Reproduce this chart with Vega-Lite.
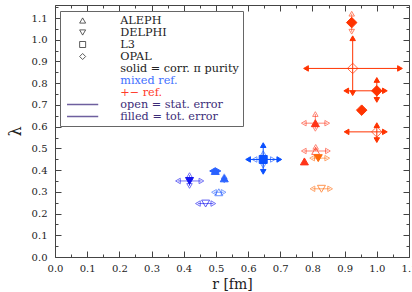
{
  "$schema": "https://vega.github.io/schema/vega-lite/v6.json",
  "width": 354,
  "height": 252,
  "autosize": "none",
  "padding": {"left": 55, "top": 5, "right": 3, "bottom": 35},
  "background": "white",
  "config": {
    "view": {"stroke": null},
    "font": "DejaVu Serif",
    "axis": {
      "grid": false,
      "domainColor": "#444",
      "tickColor": "#444",
      "labelColor": "#222",
      "labelFont": "DejaVu Serif",
      "labelFontSize": 10,
      "titleFont": "DejaVu Serif",
      "titleFontWeight": "normal",
      "titleColor": "#222",
      "labelOverlap": false,
      "labelFlush": false,
      "domainWidth": 1,
      "tickWidth": 1
    }
  },
  "datasets": {
    "pts": [
      {"exp": "DELPHI", "series": "DELPHI mixed", "filled": true, "r": 0.418, "lam": 0.350},
      {"exp": "DELPHI", "series": "DELPHI mixed", "filled": false, "r": 0.468, "lam": 0.246},
      {"exp": "ALEPH", "series": "ALEPH mixed", "filled": true, "r": 0.498, "lam": 0.396},
      {"exp": "ALEPH", "series": "ALEPH mixed", "filled": true, "r": 0.526, "lam": 0.362},
      {"exp": "ALEPH", "series": "ALEPH mixed", "filled": false, "r": 0.509, "lam": 0.298},
      {"exp": "L3", "series": "L3 mixed", "filled": true, "r": 0.647, "lam": 0.449},
      {"exp": "ALEPH", "series": "ALEPH +−", "filled": true, "r": 0.809, "lam": 0.616},
      {"exp": "ALEPH", "series": "ALEPH +−", "filled": false, "r": 0.810, "lam": 0.488},
      {"exp": "DELPHI", "series": "DELPHI +−", "filled": true, "r": 0.818, "lam": 0.455},
      {"exp": "ALEPH", "series": "ALEPH +−", "filled": true, "r": 0.775, "lam": 0.440},
      {"exp": "DELPHI", "series": "DELPHI +−", "filled": false, "r": 0.828, "lam": 0.314},
      {"exp": "OPAL", "series": "OPAL +−", "filled": true, "r": 0.922, "lam": 1.079},
      {"exp": "OPAL", "series": "OPAL +−", "filled": false, "r": 0.925, "lam": 0.868},
      {"exp": "OPAL", "series": "OPAL +−", "filled": true, "r": 1.0, "lam": 0.765},
      {"exp": "OPAL", "series": "OPAL +−", "filled": true, "r": 0.953, "lam": 0.676},
      {"exp": "OPAL", "series": "OPAL +−", "filled": false, "r": 1.0, "lam": 0.576}
    ],
    "bars": [
      {"series": "DELPHI mixed", "kind": "stat", "r": 0.418, "lam": 0.350, "rlo": 0.382, "rhi": 0.455, "llo": 0.327, "lhi": 0.377},
      {"series": "DELPHI mixed", "kind": "stat", "r": 0.468, "lam": 0.246, "rlo": 0.444, "rhi": 0.492, "llo": 0.246, "lhi": 0.246},
      {"series": "ALEPH mixed", "kind": "tot", "r": 0.498, "lam": 0.396, "rlo": 0.488, "rhi": 0.508, "llo": 0.396, "lhi": 0.396},
      {"series": "ALEPH mixed", "kind": "stat", "r": 0.526, "lam": 0.362, "rlo": 0.526, "rhi": 0.526, "llo": 0.352, "lhi": 0.372},
      {"series": "ALEPH mixed", "kind": "stat", "r": 0.509, "lam": 0.298, "rlo": 0.494, "rhi": 0.524, "llo": 0.298, "lhi": 0.298},
      {"series": "L3 mixed", "kind": "tot", "r": 0.647, "lam": 0.449, "rlo": 0.600, "rhi": 0.697, "llo": 0.392, "lhi": 0.515},
      {"series": "L3 mixed", "kind": "stat", "r": 0.647, "lam": 0.449, "rlo": 0.620, "rhi": 0.677, "llo": 0.420, "lhi": 0.478},
      {"series": "ALEPH +−", "kind": "stat", "r": 0.809, "lam": 0.616, "rlo": 0.773, "rhi": 0.846, "llo": 0.590, "lhi": 0.658},
      {"series": "ALEPH +−", "kind": "stat", "r": 0.810, "lam": 0.488, "rlo": 0.773, "rhi": 0.848, "llo": 0.488, "lhi": 0.507},
      {"series": "DELPHI +−", "kind": "stat", "r": 0.818, "lam": 0.455, "rlo": 0.799, "rhi": 0.846, "llo": 0.455, "lhi": 0.455},
      {"series": "DELPHI +−", "kind": "stat", "r": 0.828, "lam": 0.314, "rlo": 0.800, "rhi": 0.855, "llo": 0.314, "lhi": 0.314},
      {"series": "OPAL +−", "kind": "stat", "r": 0.922, "lam": 1.079, "rlo": 0.922, "rhi": 0.922, "llo": 1.037, "lhi": 1.120},
      {"series": "OPAL +−", "kind": "tot", "r": 0.925, "lam": 0.868, "rlo": 0.780, "rhi": 1.072, "llo": 0.754, "lhi": 1.007},
      {"series": "OPAL +−", "kind": "tot", "r": 1.0, "lam": 0.765, "rlo": 0.905, "rhi": 1.025, "llo": 0.723, "lhi": 0.815},
      {"series": "OPAL +−", "kind": "tot", "r": 1.0, "lam": 0.576, "rlo": 0.906, "rhi": 1.025, "llo": 0.538, "lhi": 0.607}
    ]
  },
  "resolve": {"axis": {"x": "independent", "y": "independent"}},
  "layer": [
    {
      "data": {"name": "bars"},
      "transform": [{"filter": "datum.rlo < datum.rhi"}],
      "mark": {"type": "rule", "strokeWidth": 1},
      "encoding": {
        "x": {"field": "rlo", "type": "quantitative", "scale": {"domain": [0, 1.1], "nice": false, "zero": false}, "axis": null},
        "x2": {"field": "rhi"},
        "y": {"field": "lam", "type": "quantitative", "scale": {"domain": [0, 1.16], "nice": false, "zero": false}, "axis": null},
        "stroke": {"field": "series", "type": "nominal", "scale": {"domain": ["ALEPH mixed", "DELPHI mixed", "L3 mixed", "ALEPH +−", "DELPHI +−", "OPAL +−"], "range": ["#2a62ff", "#1414f0", "#0a50ff", "#ff3418", "#ff6a0a", "#ff3300"]}, "legend": null},
        "opacity": {"condition": {"test": "datum.kind == 'stat'", "value": 0.6}, "value": 1}
      }
    },
    {
      "data": {"name": "bars"},
      "transform": [{"filter": "datum.llo < datum.lhi"}],
      "mark": {"type": "rule", "strokeWidth": 1},
      "encoding": {
        "x": {"field": "r", "type": "quantitative", "scale": {"domain": [0, 1.1], "nice": false, "zero": false}, "axis": null},
        "y": {"field": "llo", "type": "quantitative", "scale": {"domain": [0, 1.16], "nice": false, "zero": false}, "axis": null},
        "y2": {"field": "lhi"},
        "stroke": {"field": "series", "type": "nominal", "legend": null},
        "opacity": {"condition": {"test": "datum.kind == 'stat'", "value": 0.6}, "value": 1}
      }
    },
    {
      "data": {"name": "bars"},
      "transform": [{"filter": "datum.rlo < datum.r"}],
      "mark": {"type": "point", "shape": "triangle-left", "size": 30, "strokeWidth": 1},
      "encoding": {
        "x": {"field": "rlo", "type": "quantitative", "scale": {"domain": [0, 1.1], "nice": false, "zero": false}, "axis": null},
        "y": {"field": "lam", "type": "quantitative", "scale": {"domain": [0, 1.16], "nice": false, "zero": false}, "axis": null},
        "stroke": {"field": "series", "type": "nominal", "legend": null},
        "fill": {"field": "series", "type": "nominal", "legend": null, "scale": {"domain": ["ALEPH mixed", "DELPHI mixed", "L3 mixed", "ALEPH +−", "DELPHI +−", "OPAL +−"], "range": ["#2a62ff", "#1414f0", "#0a50ff", "#ff3418", "#ff6a0a", "#ff3300"]}, "condition": {"test": "datum.kind == 'stat'", "value": "transparent"}},
        "opacity": {"condition": {"test": "datum.kind == 'stat'", "value": 0.6}, "value": 1}
      }
    },
    {
      "data": {"name": "bars"},
      "transform": [{"filter": "datum.rhi > datum.r"}],
      "mark": {"type": "point", "shape": "triangle-right", "size": 30, "strokeWidth": 1},
      "encoding": {
        "x": {"field": "rhi", "type": "quantitative", "scale": {"domain": [0, 1.1], "nice": false, "zero": false}, "axis": null},
        "y": {"field": "lam", "type": "quantitative", "scale": {"domain": [0, 1.16], "nice": false, "zero": false}, "axis": null},
        "stroke": {"field": "series", "type": "nominal", "legend": null},
        "fill": {"field": "series", "type": "nominal", "legend": null, "condition": {"test": "datum.kind == 'stat'", "value": "transparent"}},
        "opacity": {"condition": {"test": "datum.kind == 'stat'", "value": 0.6}, "value": 1}
      }
    },
    {
      "data": {"name": "bars"},
      "transform": [{"filter": "datum.llo < datum.lam"}],
      "mark": {"type": "point", "shape": "triangle-down", "size": 30, "strokeWidth": 1},
      "encoding": {
        "x": {"field": "r", "type": "quantitative", "scale": {"domain": [0, 1.1], "nice": false, "zero": false}, "axis": null},
        "y": {"field": "llo", "type": "quantitative", "scale": {"domain": [0, 1.16], "nice": false, "zero": false}, "axis": null},
        "stroke": {"field": "series", "type": "nominal", "legend": null},
        "fill": {"field": "series", "type": "nominal", "legend": null, "condition": {"test": "datum.kind == 'stat'", "value": "transparent"}},
        "opacity": {"condition": {"test": "datum.kind == 'stat'", "value": 0.6}, "value": 1}
      }
    },
    {
      "data": {"name": "bars"},
      "transform": [{"filter": "datum.lhi > datum.lam"}],
      "mark": {"type": "point", "shape": "triangle-up", "size": 30, "strokeWidth": 1},
      "encoding": {
        "x": {"field": "r", "type": "quantitative", "scale": {"domain": [0, 1.1], "nice": false, "zero": false},
          "axis": {"orient": "top", "labels": false, "title": null,
            "values": [0, 0.05, 0.1, 0.15, 0.2, 0.25, 0.3, 0.35, 0.4, 0.45, 0.5, 0.55, 0.6, 0.65, 0.7, 0.75, 0.8, 0.85, 0.9, 0.95, 1, 1.05, 1.1],
            "tickSize": {"condition": {"test": "abs(datum.value*10-round(datum.value*10))<0.001", "value": -6}, "value": -3}}},
        "y": {"field": "lhi", "type": "quantitative", "scale": {"domain": [0, 1.16], "nice": false, "zero": false},
          "axis": {"orient": "right", "labels": false, "title": null,
            "values": [0, 0.05, 0.1, 0.15, 0.2, 0.25, 0.3, 0.35, 0.4, 0.45, 0.5, 0.55, 0.6, 0.65, 0.7, 0.75, 0.8, 0.85, 0.9, 0.95, 1, 1.05, 1.1, 1.15],
            "tickSize": {"condition": {"test": "abs(datum.value*10-round(datum.value*10))<0.001", "value": -6}, "value": -3}}},
        "stroke": {"field": "series", "type": "nominal", "legend": null},
        "fill": {"field": "series", "type": "nominal", "legend": null, "condition": {"test": "datum.kind == 'stat'", "value": "transparent"}},
        "opacity": {"condition": {"test": "datum.kind == 'stat'", "value": 0.6}, "value": 1}
      }
    },
    {
      "data": {"name": "pts"},
      "transform": [{"filter": "datum.exp == 'OPAL'"}],
      "mark": {"type": "point", "shape": "diamond", "size": 110, "strokeWidth": 1},
      "encoding": {
        "x": {"field": "r", "type": "quantitative", "scale": {"domain": [0, 1.1], "nice": false, "zero": false}, "axis": null},
        "y": {"field": "lam", "type": "quantitative", "scale": {"domain": [0, 1.16], "nice": false, "zero": false}, "axis": null},
        "stroke": {"field": "series", "type": "nominal", "legend": null},
        "fill": {"field": "series", "type": "nominal", "legend": null, "condition": {"test": "!datum.filled", "value": "transparent"}},
        "opacity": {"condition": {"test": "datum.filled", "value": 1}, "value": 0.7}
      }
    },
    {
      "data": {"name": "pts"},
      "transform": [{"filter": "datum.exp != 'OPAL'"}],
      "mark": {"type": "point", "strokeWidth": 1, "size": 64},
      "encoding": {
        "x": {"field": "r", "type": "quantitative", "scale": {"domain": [0, 1.1], "nice": false, "zero": false},
          "axis": {"orient": "bottom", "title": "r [fm]", "titleFontSize": 14, "titlePadding": 1,
            "values": [0, 0.05, 0.1, 0.15, 0.2, 0.25, 0.3, 0.35, 0.4, 0.45, 0.5, 0.55, 0.6, 0.65, 0.7, 0.75, 0.8, 0.85, 0.9, 0.95, 1, 1.05, 1.1],
            "labelExpr": "abs(datum.value*10-round(datum.value*10))<0.001 ? format(datum.value,'.1f') : ''",
            "labelPadding": 12,
            "tickSize": {"condition": {"test": "abs(datum.value*10-round(datum.value*10))<0.001", "value": -6}, "value": -3}}},
        "y": {"field": "lam", "type": "quantitative", "scale": {"domain": [0, 1.16], "nice": false, "zero": false},
          "axis": {"orient": "left", "title": "λ", "titleFontSize": 16, "titlePadding": 8,
            "values": [0, 0.05, 0.1, 0.15, 0.2, 0.25, 0.3, 0.35, 0.4, 0.45, 0.5, 0.55, 0.6, 0.65, 0.7, 0.75, 0.8, 0.85, 0.9, 0.95, 1, 1.05, 1.1, 1.15],
            "labelExpr": "abs(datum.value*10-round(datum.value*10))<0.001 ? format(datum.value,'.1f') : ''",
            "labelPadding": 14,
            "tickSize": {"condition": {"test": "abs(datum.value*10-round(datum.value*10))<0.001", "value": -6}, "value": -3}}},
        "shape": {"field": "exp", "type": "nominal",
          "scale": {
            "domain": ["ALEPH", "DELPHI", "L3", "OPAL", "solid = corr. π purity", "mixed ref.", "+− ref.", "open = stat. error", "filled = tot. error"],
            "range": ["triangle-up", "triangle-down", "square", "diamond", "M0,0", "M0,0", "M0,0", "M-5.2,0L5.2,0", "M-5.2,0L5.2,0"]
          },
          "legend": {
            "orient": "none", "legendX": 5, "legendY": 6,
            "title": null,
            "padding": 4,
            "strokeColor": "#666",
            "fillColor": "white",
            "symbolSize": 36,
            "clipHeight": 11,
            "rowPadding": 0,
            "symbolOffset": 13,
            "labelOffset": 32,
            "labelFont": "DejaVu Serif",
            "labelFontSize": 11.25,
            "labelLimit": 400,
            "symbolFillColor": "transparent",
            "symbolStrokeColor": {"expr": "indexof(['open = stat. error','filled = tot. error'], datum.value) >= 0 ? '#6e5f9e' : '#333333'"},
            "symbolStrokeWidth": {"expr": "indexof(['open = stat. error','filled = tot. error'], datum.value) >= 0 ? 1.5 : 0.8"},
            "labelColor": {"expr": "datum.value == 'mixed ref.' ? '#3f6fff' : datum.value == '+− ref.' ? '#ff3a2a' : indexof(['open = stat. error','filled = tot. error'], datum.value) >= 0 ? '#3c2c78' : '#222222'"}
          }
        },
        "stroke": {"field": "series", "type": "nominal", "legend": null},
        "fill": {"field": "series", "type": "nominal", "legend": null, "condition": {"test": "!datum.filled", "value": "transparent"}},
        "opacity": {"condition": {"test": "datum.filled", "value": 1}, "value": 0.7}
      }
    }
  ]
}
